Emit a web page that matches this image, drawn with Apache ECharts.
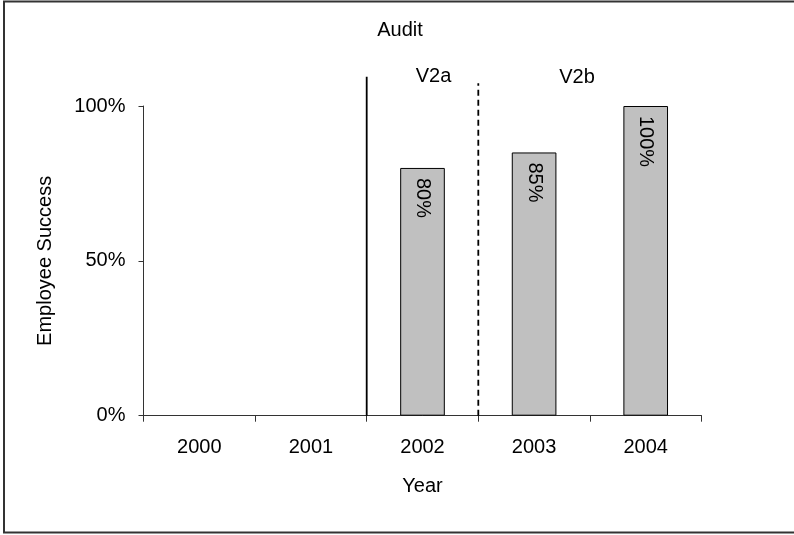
<!DOCTYPE html>
<html>
<head>
<meta charset="utf-8">
<script src="https://cdn.jsdelivr.net/npm/echarts@6/dist/echarts.min.js"></script>
<style>
  html, body { margin: 0; padding: 0; background: #fff; }
  #chart { width: 794px; height: 535px; }
</style>
</head>
<body>
<div id="chart"></div>
<script>
// Yearly employee success rate, with the audit and version phases marked
const years = ['2000', '2001', '2002', '2003', '2004'];
const successRate = [null, null, 0.80, 0.85, 1.00];
const yTicks = [0, 0.5, 1];

// Phase boundaries on a 0..5 scale spanning the year categories
const auditBoundary = 2;   // between 2001 and 2002
const versionBoundary = 3; // between 2002 and 2003
// Heights of the boundary lines on the overlay scale (0 = axis, 1 = overlay top)
const auditLineTop = 1.0;
const versionLineTop = 0.981;

const FONT = 'Liberation Sans, Arial, sans-serif';
const chart = echarts.init(document.getElementById('chart'), null, { renderer: 'canvas' });

const gridPos = { left: 143.5, right: 92.5, bottom: 119.3 };

chart.setOption({
  animation: false,
  backgroundColor: '#fff',
  textStyle: { fontFamily: FONT, color: '#000' },
  grid: [
    Object.assign({ top: 106 }, gridPos),
    Object.assign({ top: 76.7 }, gridPos)
  ],
  xAxis: [
    {
      type: 'category',
      gridIndex: 0,
      data: years,
      name: 'Year',
      nameLocation: 'middle',
      nameGap: 61,
      nameTextStyle: { fontSize: 20, fontFamily: FONT, color: '#000' },
      axisLine: { lineStyle: { color: '#333', width: 1 } },
      axisTick: { show: true, length: 6, lineStyle: { color: '#333' } },
      axisLabel: { fontSize: 20, fontFamily: FONT, color: '#000', margin: 22 },
      splitLine: { show: false }
    },
    {
      type: 'value',
      gridIndex: 1,
      min: 0,
      max: 5,
      show: false
    }
  ],
  yAxis: [
    {
      type: 'value',
      gridIndex: 0,
      min: 0,
      max: 1,
      interval: 0.5,
      name: 'Employee Success',
      nameLocation: 'middle',
      nameRotate: 90,
      nameGap: 88,
      nameTextStyle: { fontSize: 20, fontFamily: FONT, color: '#000' },
      axisLine: { show: true, lineStyle: { color: '#333', width: 1 } },
      axisTick: { show: true, length: 5, lineStyle: { color: '#333' } },
      axisLabel: {
        fontSize: 20, fontFamily: FONT, color: '#000', margin: 18,
        formatter: v => (yTicks.indexOf(v) >= 0 ? Math.round(v * 100) + '%' : '')
      },
      splitLine: { show: false }
    },
    {
      type: 'value',
      gridIndex: 1,
      min: 0,
      max: 1,
      show: false
    }
  ],
  series: [
    {
      type: 'bar',
      xAxisIndex: 0,
      yAxisIndex: 0,
      data: successRate,
      barWidth: '40%',
      itemStyle: { color: '#c0c0c0', borderColor: '#000', borderWidth: 1 },
      label: {
        show: true,
        position: 'insideTop',
        rotate: -90,
        align: 'left',
        verticalAlign: 'middle',
        distance: 10,
        fontSize: 20,
        fontFamily: FONT,
        color: '#000',
        formatter: p => Math.round(p.value * 100) + '%'
      }
    },
    {
      // Audit boundary (solid)
      type: 'line',
      xAxisIndex: 1,
      yAxisIndex: 1,
      data: [[auditBoundary, 0], [auditBoundary, auditLineTop]],
      symbol: 'none',
      lineStyle: { color: '#000', width: 1.8, type: 'solid' },
      silent: true
    },
    {
      // Version boundary (dashed)
      type: 'line',
      xAxisIndex: 1,
      yAxisIndex: 1,
      data: [[versionBoundary, 0], [versionBoundary, versionLineTop]],
      symbol: 'none',
      lineStyle: { color: '#000', width: 1.8, type: [6, 4] },
      silent: true
    }
  ],
  graphic: [
    {
      type: 'rect',
      shape: { x: 4, y: 1.5, width: 800, height: 531 },
      style: { fill: 'none', stroke: '#333', lineWidth: 2 },
      silent: true
    },
    {
      type: 'text', x: 400, y: 30,
      style: { text: 'Audit', font: '20px ' + FONT, fill: '#000', textAlign: 'center', textVerticalAlign: 'middle' }
    },
    {
      type: 'text', x: 433.5, y: 76,
      style: { text: 'V2a', font: '20px ' + FONT, fill: '#000', textAlign: 'center', textVerticalAlign: 'middle' }
    },
    {
      type: 'text', x: 577, y: 77,
      style: { text: 'V2b', font: '20px ' + FONT, fill: '#000', textAlign: 'center', textVerticalAlign: 'middle' }
    }
  ]
});
</script>
</body>
</html>
